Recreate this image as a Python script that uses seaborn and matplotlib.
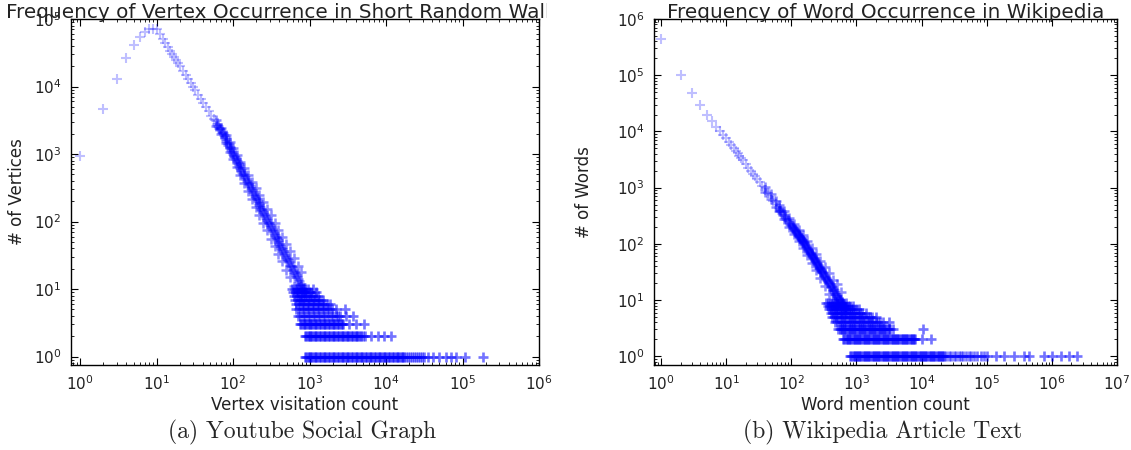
import matplotlib
matplotlib.use("Agg")
import matplotlib.pyplot as plt
import numpy as np
import pandas as pd
import seaborn as sns
from matplotlib.ticker import LogLocator, NullFormatter
from matplotlib.transforms import Bbox, TransformedBbox

# ---------------- (a) Youtube social graph: vertex visitation counts ----------------
yt_head_x = [1, 2, 3, 4, 5, 6, 7, 8, 9]
yt_head_y = [950, 4600, 13000, 26000, 41000, 54000, 64000, 70000, 72000]

# light upper part of the power-law band
yt_top_x = [10, 11, 12, 13, 14, 15, 16, 17, 18, 19, 20, 22, 24, 26, 28, 30,
            32, 35, 38, 41, 44, 48, 52, 56]
yt_top_y = [70000, 59100, 50600, 43900, 38500, 34000, 30300, 27200, 24600, 22300,
            20400, 17200, 14700, 12800, 11200, 9900, 8800, 7500, 6500, 5680, 5010,
            4290, 3720, 3260]

# darker lower part of the band
yt_band_x = [61, 63, 66, 68, 71, 73, 76, 78, 80, 82, 85, 87, 90, 92, 95, 97, 100,
             103, 106, 109, 112, 115, 118, 121, 125, 128, 132, 136, 140, 144, 148,
             152, 157, 161, 166, 171, 176, 181, 186, 191, 197, 203, 209, 215, 221,
             227, 234, 241, 248, 255, 263, 270, 278, 286, 294, 302, 311, 320, 330,
             340, 350, 360, 370, 381, 392, 403, 415, 427, 440, 453, 466, 480, 494,
             508, 523, 538, 554, 570, 587, 604, 622, 640, 659, 678, 698, 719, 740,
             762, 784, 807, 830, 855, 880]
yt_band_y = [2800, 2640, 2430, 2310, 2140, 2040, 1890, 1810, 1650, 1560, 1440, 1370,
             1270, 1210, 1130, 1080, 1010, 946, 890, 836, 787, 743, 702, 664, 618,
             587, 548, 514, 482, 453, 426, 402, 374, 354, 331, 310, 291, 274, 258,
             243, 227, 213, 200, 187, 177, 166, 156, 146, 137, 129, 120, 114, 107,
             100, 94, 89, 83, 78, 73, 68, 64, 60, 57, 53, 50, 47, 44, 41, 39, 36, 34,
             32, 30, 28, 27, 25, 23, 22, 21, 19, 18, 17, 16, 15, 14, 13, 12, 12, 11,
             10, 10, 9, 9]

# upper / lower edge of the band where it thickens
yt_spread_x = [60, 70, 80, 90, 100, 112, 125, 140, 157, 176, 197, 221, 248, 278,
               311, 350, 392, 440, 494, 554, 622, 698, 784]
yt_spread_hi = [3230, 2450, 1900, 1500, 1210, 960, 773, 617, 486, 387, 309, 248,
                195, 155, 123, 96, 75, 59, 47, 36, 29, 22, 18]
yt_spread_lo = [2570, 1955, 1435, 1076, 842, 645, 494, 377, 288, 219, 167, 126, 96,
                74, 56, 43, 33, 26, 19, 15, 11, 9, 7]

yt_row_1 = [870, 905, 940, 975, 1010, 1050, 1090, 1135, 1180, 1225, 1270, 1320,
            1370, 1425, 1480, 1540, 1600, 1665, 1730, 1800, 1870, 1945, 2020, 2100,
            2180, 2265, 2350, 2445, 2540, 2640, 2740, 2850, 2960, 3080, 3200, 3325,
            3450, 3590, 3730, 3880, 4030, 4190, 4350, 4525, 4700, 4885, 5070, 5275,
            5480, 5700, 5920, 6155, 6390, 6645, 6900, 7175, 7450, 7750, 8050, 8370,
            8690, 9040, 9390, 9745, 10100, 10500, 10900, 11350, 11800, 12300, 12800,
            13300, 13800, 14350, 14900, 15500, 16100, 16750, 17400, 18500, 19600,
            20800, 22000, 23400, 24800, 26300, 27900, 29600, 31400, 35000, 41000,
            50000, 61000, 71000, 83000, 107000, 185000]
yt_row_2 = [870, 905, 940, 975, 1010, 1050, 1090, 1135, 1180, 1225, 1270, 1320,
            1370, 1425, 1480, 1540, 1600, 1665, 1730, 1800, 1870, 1945, 2020, 2100,
            2180, 2265, 2350, 2445, 2540, 2640, 2740, 2850, 2960, 3080, 3200, 3325,
            3450, 3590, 3730, 3880, 4030, 4190, 4350, 4525, 4700, 5000, 5300, 6300,
            7800, 9500, 11700]
yt_row_3 = [750, 780, 810, 840, 870, 905, 940, 975, 1010, 1050, 1090, 1135, 1180,
            1225, 1270, 1320, 1370, 1425, 1480, 1540, 1600, 1665, 1730, 1800, 1870,
            1945, 2020, 2100, 2180, 2265, 2350, 2445, 2540, 2640, 2750, 3300, 4100,
            5200]
yt_row_4 = [700, 760, 820, 880, 950, 1020, 1100, 1190, 1280, 1380, 1490, 1610,
            1740, 1880, 2030, 2190, 2360, 2500, 3000, 3700]
yt_row_5 = [670, 730, 790, 850, 920, 990, 1070, 1150, 1240, 1340, 1450, 1560, 1690,
            1820, 1970, 2200, 2900]
yt_row_6 = [670, 730, 790, 850, 920, 990, 1070, 1150, 1240, 1340, 1450, 1560, 1690,
            1850]
yt_row_7 = [650, 700, 760, 820, 880, 950, 1020, 1100, 1190, 1280, 1380, 1500]
yt_row_8 = [630, 680, 740, 800, 860, 930, 1000, 1080, 1170, 1300]
yt_row_9 = [610, 660, 710, 770, 830, 900, 970, 1050, 1200]
yt_row_10 = [590, 640, 690, 750, 810, 870, 940, 1100]

# ---------------- (b) Wikipedia article text: word mention counts ----------------
wk_head_x = [1, 2, 3, 4, 5, 6, 7, 8, 9]
wk_head_y = [440000, 100000, 48000, 29000, 20000, 15500, 12000, 10000, 8600]

wk_top_x = [10, 11, 12, 13, 14, 15, 16, 17, 18, 20, 22, 24, 26, 28, 30, 33, 36,
            40, 44, 48, 53, 58]
wk_top_y = [7500, 6500, 5700, 5050, 4500, 4070, 3690, 3370, 3090, 2630, 2280, 2000,
            1770, 1590, 1430, 1240, 1085, 925, 794, 690, 590, 510]

wk_band_x = [64, 67, 70, 73, 77, 80, 84, 88, 92, 96, 100, 102, 105, 107, 110, 112,
             115, 117, 120, 122, 125, 127, 130, 132, 135, 137, 140, 142, 145, 147,
             150, 152, 155, 157, 160, 164, 168, 171, 175, 179, 183, 186, 190, 194,
             198, 201, 205, 209, 213, 216, 220, 225, 230, 235, 240, 245, 250, 255,
             260, 265, 270, 275, 280, 285, 290, 295, 300, 307, 315, 322, 330, 337,
             345, 352, 360, 370, 380, 390, 400, 410, 420, 430, 440, 450, 460, 470,
             480, 492, 505, 517, 530, 542, 555, 567, 580, 595, 610, 625, 640, 655,
             670, 685, 700]
wk_band_y = [436, 405, 378, 353, 324, 305, 282, 262, 244, 228, 213, 207, 198, 192,
             183, 178, 171, 166, 160, 155, 150, 146, 140, 137, 132, 129, 125, 122,
             118, 115, 112, 109, 106, 104, 100, 96, 92, 88, 85, 81, 79, 76, 73, 70,
             68, 65, 63, 61, 59, 57, 55, 53, 51, 49, 47, 45, 43, 42, 40, 39, 37, 37,
             35, 34, 33, 32, 31, 30, 28, 27, 26, 25, 24, 23, 22, 21, 20, 19, 18, 17,
             17, 16, 15, 15, 14, 13, 13, 12, 12, 11, 11, 10, 10, 10, 9, 9, 9, 8, 8, 7,
             7, 7, 6]

wk_spread_x = [40, 48, 58, 64, 77, 92, 110, 130, 150, 175, 205, 240, 280, 330, 380,
               440, 505, 580]
wk_spread_hi = [1020, 773, 581, 501, 382, 293, 225, 176, 146, 113, 86, 66, 50, 38,
                30, 23, 19, 14]
wk_spread_lo = [841, 616, 447, 379, 275, 203, 149, 111, 86, 64, 46, 34, 25, 18, 13,
                10, 8, 6]

wk_row_1 = [800, 835, 870, 905, 940, 980, 1020, 1060, 1100, 1145, 1190, 1240, 1290,
            1345, 1400, 1455, 1510, 1575, 1640, 1705, 1770, 1845, 1920, 2000, 2080,
            2165, 2250, 2340, 2430, 2530, 2630, 2740, 2850, 2965, 3080, 3210, 3340,
            3475, 3610, 3760, 3910, 4070, 4230, 4405, 4580, 4770, 4960, 5165, 5370,
            5590, 5810, 6050, 6290, 6550, 6810, 7090, 7370, 7675, 7980, 8310, 8640,
            8995, 9350, 9725, 10100, 10500, 10900, 11350, 11800, 12300, 12800, 13350,
            13900, 14450, 15000, 15650, 16300, 16950, 17600, 18350, 19100, 19850,
            20600, 21450, 22300, 24000, 26000, 28500, 31000, 34000, 37000, 40000,
            44000, 48000, 53000, 58000, 63000, 72000, 81000, 90000, 100000, 138000,
            182000, 263000, 372000, 447000, 760000, 1000000, 1380000, 1820000,
            2400000]
wk_row_2 = [630, 655, 680, 710, 740, 770, 800, 835, 870, 905, 940, 980, 1020, 1060,
            1100, 1145, 1190, 1240, 1290, 1345, 1400, 1455, 1510, 1575, 1640, 1705,
            1770, 1845, 1920, 2000, 2080, 2165, 2250, 2340, 2430, 2530, 2630, 2740,
            2850, 2965, 3080, 3210, 3340, 3475, 3610, 3760, 3910, 4070, 4230, 4405,
            4580, 4770, 4960, 5165, 5370, 5590, 5810, 6050, 6290, 6550, 6810, 7090,
            7370, 7680, 8000, 10000, 14000]
wk_row_3 = [530, 552, 575, 597, 620, 645, 670, 700, 730, 760, 790, 820, 850, 885,
            920, 960, 1000, 1040, 1080, 1125, 1170, 1215, 1260, 1315, 1370, 1425,
            1480, 1540, 1600, 1665, 1730, 1800, 1870, 1950, 2030, 2115, 2200, 2290,
            2380, 2475, 2570, 2675, 2780, 2890, 3000, 3150, 3300, 3700, 10500]
wk_row_4 = [470, 510, 550, 600, 650, 700, 760, 820, 890, 960, 1040, 1130, 1220,
            1320, 1430, 1550, 1680, 1820, 1970, 2130, 2300, 2600, 3200]
wk_row_5 = [420, 455, 490, 530, 575, 620, 670, 730, 790, 850, 920, 1000, 1080, 1170,
            1260, 1370, 1480, 1600, 1750, 2000]
wk_row_6 = [400, 435, 470, 510, 550, 600, 650, 700, 760, 820, 890, 960, 1040, 1130,
            1230, 1400]
wk_row_7 = [380, 410, 445, 480, 520, 560, 610, 660, 710, 770, 830, 900, 980, 1100]
wk_row_8 = [360, 390, 420, 455, 490, 530, 575, 620, 670, 730, 800, 900]
wk_row_9 = [340, 370, 400, 430, 465, 500, 540, 585, 630, 700]

yt_rows = {1: yt_row_1, 2: yt_row_2, 3: yt_row_3, 4: yt_row_4, 5: yt_row_5,
           6: yt_row_6, 7: yt_row_7, 8: yt_row_8, 9: yt_row_9, 10: yt_row_10}
wk_rows = {1: wk_row_1, 2: wk_row_2, 3: wk_row_3, 4: wk_row_4, 5: wk_row_5,
           6: wk_row_6, 7: wk_row_7, 8: wk_row_8, 9: wk_row_9}


def build_frame(head_x, head_y, top_x, top_y, band_x, band_y,
                spread_x, spread_hi, spread_lo, rows):
    parts = [
        pd.DataFrame({"x": head_x + top_x, "y": head_y + top_y, "layer": "light"}),
        pd.DataFrame({"x": band_x, "y": band_y, "layer": "band"}),
        pd.DataFrame({"x": spread_x + spread_x, "y": spread_hi + spread_lo,
                      "layer": "band"}),
    ]
    for level, xs in rows.items():
        parts.append(pd.DataFrame({"x": xs, "y": [level] * len(xs), "layer": "dense"}))
    return pd.concat(parts, ignore_index=True)


def draw_panel(ax, df, xlim, ylim, xlabel, ylabel, ylabel_x):
    ax.set_xscale("log")
    ax.set_yscale("log")
    styles = [("light", 0.25, 1.5), ("band", 0.45, 1.8), ("dense", 0.55, 1.9)]
    for layer, alpha, lw in styles:
        sns.scatterplot(data=df[df["layer"] == layer], x="x", y="y", marker="+",
                        color="blue", alpha=alpha, s=60, linewidth=lw,
                        legend=False, ax=ax)
    ax.set_xlim(*xlim)
    ax.set_ylim(*ylim)

    for axis in (ax.xaxis, ax.yaxis):
        axis.set_major_locator(LogLocator(base=10, numticks=20))
        axis.set_minor_locator(LogLocator(base=10, subs=np.arange(2, 10), numticks=20))
        axis.set_minor_formatter(NullFormatter())
    ax.tick_params(which="both", direction="in", top=True, right=True, color="black")
    ax.tick_params(which="major", length=5, width=0.8, labelsize=11, pad=7,
                   labelcolor="#222222")
    ax.tick_params(which="minor", length=2.5, width=0.6)
    for sp in ax.spines.values():
        sp.set_color("black")
        sp.set_linewidth(1.0)

    ax.set_xlabel(xlabel, fontsize=12, color="#222222")
    ax.set_ylabel(ylabel, fontsize=12, color="#222222")
    ax.xaxis.set_label_coords(0.5, -40 / 347)
    ax.xaxis.label.set_va("center")
    ax.yaxis.set_label_coords(ylabel_x, 0.5)
    ax.yaxis.label.set_va("center")


sns.set_style("ticks")
plt.rcParams["font.family"] = ["DejaVu Sans"]

W, H = 1131, 450
fig = plt.figure(figsize=(W / 100, H / 100), dpi=100)
ax1 = fig.add_axes([71 / W, 85 / H, 468 / W, 346 / H])
ax2 = fig.add_axes([654 / W, 85 / H, 463 / W, 346 / H])

yt = build_frame(yt_head_x, yt_head_y, yt_top_x, yt_top_y, yt_band_x, yt_band_y,
                 yt_spread_x, yt_spread_hi, yt_spread_lo, yt_rows)
wk = build_frame(wk_head_x, wk_head_y, wk_top_x, wk_top_y, wk_band_x, wk_band_y,
                 wk_spread_x, wk_spread_hi, wk_spread_lo, wk_rows)

draw_panel(ax1, yt, (0.76, 1e6), (0.75, 1e5), "Vertex visitation count",
           "# of Vertices", (17 - 71) / 468)
draw_panel(ax2, wk, (0.78, 1e7), (0.70, 1e6), "Word mention count",
           "# of Words", (584 - 654) / 463)

# titles sit above each panel; the left one is cut off at the sub-figure edge
t1 = fig.text(6 / W, 1 - 18 / H,
              "Frequency of Vertex Occurrence in Short Random Walks",
              ha="left", va="baseline", fontsize=14.4, color="#222222")
t1.set_clip_box(TransformedBbox(Bbox([[0, 0], [547 / W, 1]]), fig.transFigure))
t1.set_clip_on(True)
fig.text(886 / W, 1 - 18 / H, "Frequency of Word Occurrence in Wikipedia",
         ha="center", va="baseline", fontsize=14.4, color="#222222")

fig.text(302 / W, 1 - 432 / H, "(a) Youtube Social Graph", ha="center",
         va="center", fontsize=17, family="cmr10")
fig.text(883 / W, 1 - 432 / H, "(b) Wikipedia Article Text", ha="center",
         va="center", fontsize=17, family="cmr10")

fig.savefig("out.png", dpi=100, facecolor="white")
